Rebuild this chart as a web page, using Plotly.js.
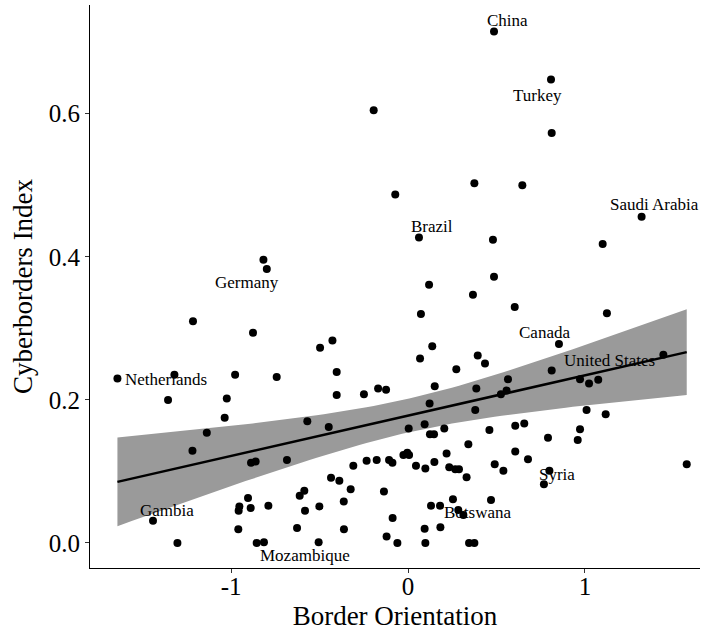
<!DOCTYPE html>
<html>
<head>
<meta charset="utf-8">
<script src="https://cdn.plot.ly/plotly-3.0.1.min.js"></script>
<style>html,body{margin:0;padding:0;background:#fff;}#chart{width:705px;height:631px;}</style>
</head>
<body>
<div id="chart"></div>
<script>
// Border Orientation (x) and Cyberborders Index (y) per country
const borderOrientation = [
 0.486, 0.808, 0.812, 0.375, 0.646, -0.072, 1.320, 0.062, 0.480, 1.100,
 0.486, 0.119, 0.367, -0.194, -0.817, -0.798, -1.215, -0.876, -1.642, -1.320,
 -0.977, -0.742, -1.356, -1.024, -1.036, -1.137, -0.497, -0.427, -0.403, -0.403,
 -0.249, -0.169, -0.124, -0.569, -0.448, -1.218, -0.887, -0.861, -0.684, -0.309,
 -0.234, -0.177, -0.107, -0.088, -0.435, -0.388, -0.324, -0.136, -0.586, -0.612,
 -0.904, -0.953, -0.957, -0.889, -0.789, -0.582, -0.501, -0.363, -0.087, -1.441,
 -0.959, -0.627, -0.362, -1.303, -0.855, -0.814, -0.505, -0.121, -0.060, -0.026,
 -0.004, 0.006, 0.045, 0.098, 0.149, 0.218, 0.341, 0.233, 0.267, 0.288,
 0.331, 0.130, 0.181, 0.254, 0.284, 0.313, 0.094, 0.183, 0.098, 0.345,
 0.375, 0.073, 0.137, 0.068, 0.394, 0.435, 0.273, 0.151, 0.386, 0.122,
 0.380, 0.004, 0.094, 0.124, 0.147, 0.205, 0.460, 0.603, 1.124, 0.853,
 1.443, 0.812, 0.565, 0.557, 0.525, 0.972, 1.023, 1.075, 1.009, 1.117,
 0.606, 0.657, 0.972, 0.959, 0.791, 0.490, 0.539, 0.606, 0.678, 0.799,
 0.768, 1.575, 0.469
];
const cyberbordersIndex = [
 0.715, 0.648, 0.573, 0.503, 0.500, 0.487, 0.456, 0.427, 0.424, 0.418,
 0.372, 0.361, 0.347, 0.605, 0.396, 0.383, 0.310, 0.294, 0.230, 0.235,
 0.235, 0.232, 0.200, 0.202, 0.175, 0.154, 0.273, 0.283, 0.239, 0.207,
 0.208, 0.216, 0.214, 0.170, 0.162, 0.129, 0.112, 0.114, 0.116, 0.108,
 0.115, 0.116, 0.116, 0.112, 0.091, 0.087, 0.075, 0.072, 0.073, 0.066,
 0.063, 0.051, 0.045, 0.049, 0.052, 0.045, 0.051, 0.058, 0.035, 0.031,
 0.019, 0.021, 0.019, 0.000, 0.000, 0.001, 0.001, 0.009, 0.000, 0.123,
 0.126, 0.123, 0.108, 0.104, 0.113, 0.125, 0.138, 0.106, 0.103, 0.103,
 0.092, 0.052, 0.052, 0.061, 0.046, 0.039, 0.020, 0.022, 0.000, 0.000,
 0.000, 0.320, 0.275, 0.258, 0.262, 0.251, 0.243, 0.219, 0.216, 0.195,
 0.186, 0.160, 0.166, 0.152, 0.152, 0.160, 0.158, 0.330, 0.321, 0.278,
 0.263, 0.241, 0.229, 0.213, 0.208, 0.229, 0.223, 0.228, 0.186, 0.180,
 0.164, 0.167, 0.159, 0.144, 0.147, 0.110, 0.101, 0.128, 0.117, 0.101,
 0.082, 0.110, 0.060
];
// Country labels and where they sit
const labelNames = ["China","Turkey","Saudi Arabia","Brazil","Germany","Canada","United States","Netherlands","Gambia","Mozambique","Botswana","Syria"];
const labelX = [0.565, 0.734, 1.395, 0.136, -0.910, 0.771, 1.136, -1.367, -1.362, -0.582, 0.395, 0.840];
const labelY = [0.730, 0.625, 0.473, 0.442, 0.364, 0.294, 0.255, 0.229, 0.046, -0.018, 0.043, 0.096];
const xTicks = [-1, 0, 1];
const yTicks = [0.0, 0.2, 0.4, 0.6];

// Linear fit with 95% confidence band (like geom_smooth(method = "lm"))
const n = borderOrientation.length;
const xbar = borderOrientation.reduce((a,b)=>a+b,0)/n;
const ybar = cyberbordersIndex.reduce((a,b)=>a+b,0)/n;
let sxx=0, sxy=0;
for (let i=0;i<n;i++){ sxx += (borderOrientation[i]-xbar)**2; sxy += (borderOrientation[i]-xbar)*(cyberbordersIndex[i]-ybar); }
const slope = sxy/sxx, intercept = ybar - slope*xbar;
let sse=0;
for (let i=0;i<n;i++){ const r = cyberbordersIndex[i]-(intercept+slope*borderOrientation[i]); sse += r*r; }
const s = Math.sqrt(sse/(n-2));
const tq = 1.978;
const xmin = Math.min(...borderOrientation), xmax = Math.max(...borderOrientation);
const gx=[], gy=[], up=[], lo=[];
for (let k=0;k<=80;k++){
  const x = xmin + (xmax-xmin)*k/80;
  const y = intercept + slope*x;
  const se = s*Math.sqrt(1/n + (x-xbar)**2/sxx);
  gx.push(x); gy.push(y); up.push(y+tq*se); lo.push(y-tq*se);
}

const serif = "'Liberation Serif', 'Times New Roman', serif";
const traces = [
  {x: gx.concat(gx.slice().reverse()), y: up.concat(lo.slice().reverse()), type:'scatter', mode:'lines',
   fill:'toself', fillcolor:'#9a9a9a', line:{width:0}, hoverinfo:'skip', showlegend:false},
  {x: borderOrientation, y: cyberbordersIndex, type:'scatter', mode:'markers',
   marker:{color:'#000', size:8}, showlegend:false},
  {x: gx, y: gy, type:'scatter', mode:'lines', line:{color:'#000', width:2.5}, showlegend:false}
];
const annotations = labelNames.map((t,i)=>({x: labelX[i], y: labelY[i], xref:'x', yref:'y', text: t,
  showarrow:false, font:{family: serif, size:17, color:'#000'}, xanchor:'center', yanchor:'middle'}));

const layout = {
  width:705, height:631, margin:{l:90, r:5, t:5, b:63},
  paper_bgcolor:'#fff', plot_bgcolor:'#fff', showlegend:false,
  font:{family: serif, color:'#000'},
  xaxis:{range:[-1.797, 1.65], tickvals:xTicks, ticktext:xTicks.map(String), showgrid:false, zeroline:false,
    showline:true, linecolor:'#000', linewidth:1, ticks:'outside', ticklen:4, tickcolor:'#333',
    ticklabelstandoff:-8,
    tickfont:{family: serif, size:25, color:'#000'},
    title:{text:'Border Orientation', font:{family: serif, size:27, color:'#000'}, standoff:12}},
  yaxis:{range:[-0.035, 0.752], tickvals:yTicks, ticktext:yTicks.map(v=>v.toFixed(1)), showgrid:false, zeroline:false,
    showline:true, linecolor:'#000', linewidth:1, ticks:'outside', ticklen:4, tickcolor:'#333',
    tickfont:{family: serif, size:25, color:'#000'},
    title:{text:'Cyberborders Index', font:{family: serif, size:27, color:'#000'}, standoff:8}},
  annotations: annotations
};
Plotly.newPlot('chart', traces, layout, {staticPlot:true, displayModeBar:false});
</script>
</body>
</html>
